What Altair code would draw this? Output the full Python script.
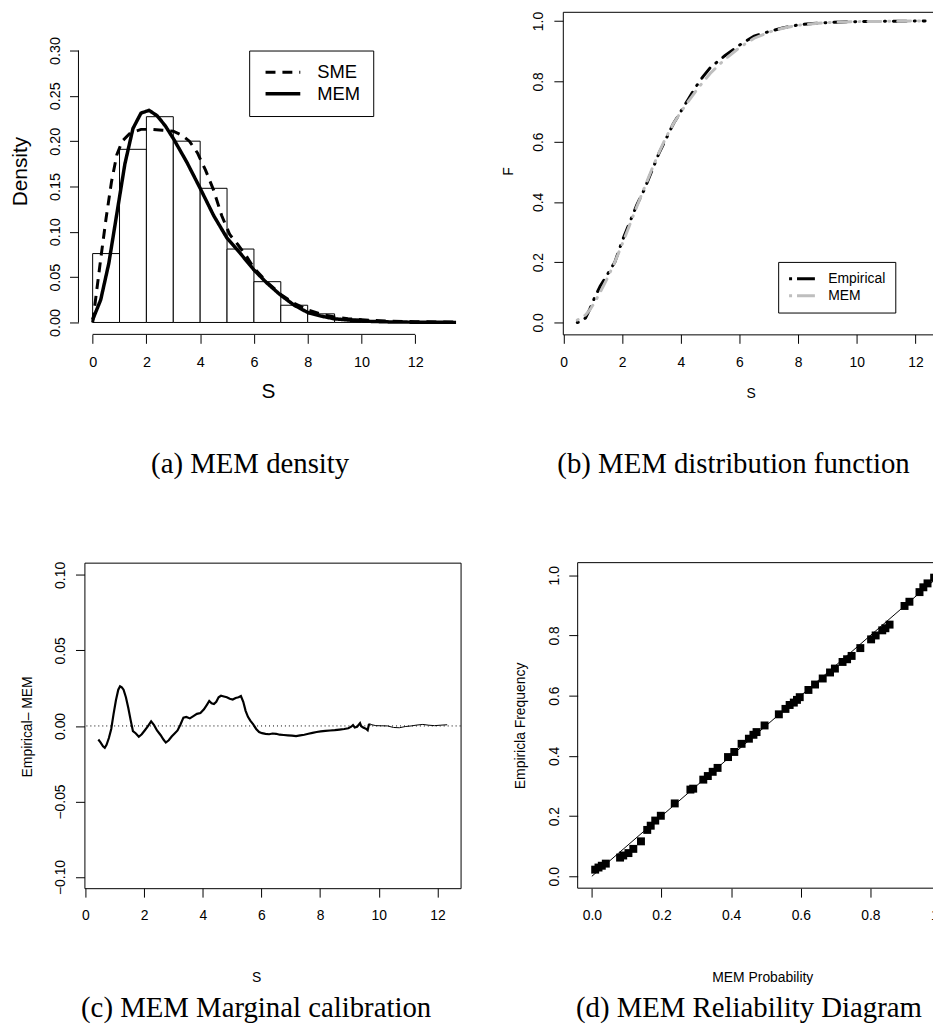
import altair as alt
import pandas as pd

SANS = "Liberation Sans"
SERIF = "Liberation Serif"

# ---------------- (a) MEM density ----------------
hist_left = [0, 1, 2, 3, 4, 5, 6, 7, 8, 9, 10, 11, 12]
hist_right = [1, 2, 3, 4, 5, 6, 7, 8, 9, 10, 11, 12, 13]
hist_density = [0.076, 0.191, 0.227, 0.200, 0.148, 0.081, 0.045, 0.019, 0.0095, 0.004, 0.002, 0.001, 0.0005]

sme_s = [0, 0.15, 0.3, 0.5, 0.7, 0.9, 1.1, 1.4, 1.8, 2.2, 2.6, 3.0, 3.3, 3.6, 3.9, 4.2, 4.5, 4.8, 5.1, 5.4,
         5.7, 6.0, 6.5, 7.0, 7.5, 8.0, 8.5, 9.0, 9.5, 10, 11, 12, 13.52]
sme_d = [0.0, 0.035, 0.07, 0.115, 0.155, 0.185, 0.200, 0.209, 0.213, 0.213, 0.212, 0.211, 0.207, 0.200, 0.187,
         0.168, 0.146, 0.118, 0.097, 0.086, 0.074, 0.060, 0.044, 0.031, 0.021, 0.014, 0.009, 0.006, 0.004,
         0.003, 0.0015, 0.0008, 0.0003]
mem_s = [0, 0.3, 0.6, 0.9, 1.2, 1.5, 1.8, 2.1, 2.4, 2.7, 3.0, 3.5, 4.0, 4.5, 5.0, 5.5, 6.0, 6.5, 7.0, 7.5,
         8.0, 8.5, 9.0, 10, 11, 12, 13.52]
mem_d = [0.003, 0.025, 0.065, 0.120, 0.175, 0.214, 0.231, 0.234, 0.228, 0.217, 0.203, 0.177, 0.148, 0.118,
         0.093, 0.076, 0.058, 0.043, 0.030, 0.019, 0.011, 0.007, 0.004, 0.0015, 0.0006, 0.0003, 0.0001]
a_series = ["SME", "MEM"]
a_x_ticks = [0, 2, 4, 6, 8, 10, 12]
a_y_ticks = [0.0, 0.05, 0.10, 0.15, 0.20, 0.25, 0.30]

# ---------------- (b) MEM distribution function ----------------
cdf_s = [0.47, 0.6, 0.75, 0.9, 1.05, 1.25, 1.5, 1.75, 2.0, 2.25, 2.5, 2.75, 3.0, 3.25, 3.5, 3.75, 4.0, 4.25,
         4.5, 4.75, 5.0, 5.5, 6.0, 6.5, 7.0, 7.5, 8.0, 8.5, 9.0, 9.5, 10, 11, 12, 12.33]
cdf_emp = [0.0, 0.003, 0.015, 0.045, 0.08, 0.12, 0.16, 0.2, 0.27, 0.33, 0.39, 0.44, 0.5, 0.56, 0.61, 0.66,
           0.7, 0.74, 0.78, 0.815, 0.845, 0.885, 0.92, 0.95, 0.965, 0.978, 0.987, 0.992, 0.995, 0.997, 0.998,
           0.999, 1.0, 1.0]
cdf_mem = [0.008, 0.014, 0.025, 0.042, 0.065, 0.1, 0.148, 0.2, 0.26, 0.322, 0.385, 0.445, 0.505, 0.563, 0.615,
           0.66, 0.698, 0.733, 0.766, 0.797, 0.826, 0.873, 0.912, 0.943, 0.963, 0.977, 0.986, 0.991, 0.995,
           0.997, 0.998, 0.999, 1.0, 1.0]
b_series = ["Empirical", "MEM"]
b_x_ticks = [0, 2, 4, 6, 8, 10, 12]
b_y_ticks = [0.0, 0.2, 0.4, 0.6, 0.8, 1.0]

# ---------------- (c) MEM marginal calibration ----------------
cal_s = [0.44, 0.52, 0.60, 0.66, 0.72, 0.80, 0.88, 0.96, 1.04, 1.12, 1.18, 1.24, 1.30, 1.38, 1.46, 1.54,
         1.62, 1.72, 1.82, 1.92, 2.02, 2.12, 2.24, 2.34, 2.44, 2.56, 2.66, 2.74, 2.84, 2.94, 3.04, 3.14,
         3.24, 3.34, 3.44, 3.56, 3.68, 3.80, 3.92, 4.04, 4.14, 4.22, 4.30, 4.38, 4.46, 4.54, 4.62, 4.72,
         4.82, 4.92, 5.02, 5.12, 5.22, 5.30, 5.38, 5.46, 5.54, 5.62, 5.72, 5.82, 5.92, 6.02, 6.14, 6.26,
         6.38, 6.50, 6.62, 6.76, 6.90, 7.04, 7.18, 7.32, 7.46, 7.60, 7.74, 7.88, 8.02, 8.18, 8.34, 8.50,
         8.66, 8.82, 8.96, 9.06, 9.12, 9.18, 9.26, 9.36, 9.40, 9.48, 9.56, 9.62, 9.66, 9.72]
cal_diff = [-0.0090, -0.0110, -0.0135, -0.0145, -0.0125, -0.0080, -0.0020, 0.0080, 0.0170, 0.0240,
            0.0262, 0.0255, 0.0240, 0.0190, 0.0120, 0.0040, -0.0035, -0.0050, -0.0072, -0.0055,
            -0.0030, -0.0005, 0.0030, 0.0005, -0.0030, -0.0060, -0.0090, -0.0110, -0.0095, -0.0070,
            -0.0050, -0.0030, 0.0010, 0.0055, 0.0060, 0.0050, 0.0065, 0.0080, 0.0085, 0.0110,
            0.0140, 0.0165, 0.0150, 0.0145, 0.0160, 0.0190, 0.0200, 0.0195, 0.0190, 0.0180,
            0.0175, 0.0185, 0.0190, 0.0198, 0.0160, 0.0100, 0.0060, 0.0035, 0.0010, -0.0020,
            -0.0040, -0.0048, -0.0052, -0.0055, -0.0050, -0.0052, -0.0058, -0.0060, -0.0062, -0.0064,
            -0.0067, -0.0062, -0.0058, -0.0052, -0.0046, -0.0040, -0.0036, -0.0033, -0.0030, -0.0028,
            -0.0024, -0.0020, -0.0015, -0.0005, 0.0006, -0.0010, -0.0005, 0.0018, -0.0002, -0.0012,
            -0.0018, -0.0028, 0.0008, 0.0010]
cal_tail_s = [9.72, 9.90, 10.10, 10.30, 10.50, 10.70, 10.90, 11.10, 11.30, 11.50, 11.70, 11.90, 12.10, 12.33]
cal_tail_diff = [0.0010, 0.0002, 0.0001, 0.0000, -0.0010, -0.0012, -0.0004, 0.0000, 0.0006, 0.0010,
                 0.0005, 0.0002, 0.0005, 0.0008]
c_reference = [0.0]
c_x_ticks = [0, 2, 4, 6, 8, 10, 12]
c_y_ticks = [-0.10, -0.05, 0.0, 0.05, 0.10]

# ---------------- (d) MEM reliability diagram ----------------
rel_prob = [0.0095, 0.019, 0.0285, 0.04, 0.081, 0.09, 0.105, 0.119, 0.141, 0.159, 0.169, 0.182, 0.198,
            0.238, 0.283, 0.291, 0.32, 0.333, 0.347, 0.361, 0.391, 0.409, 0.43, 0.451, 0.464, 0.473,
            0.496, 0.537, 0.556, 0.568, 0.58, 0.589, 0.597, 0.622, 0.641, 0.663, 0.684, 0.698, 0.72,
            0.733, 0.746, 0.771, 0.802, 0.815, 0.834, 0.843, 0.855, 0.898, 0.912, 0.941, 0.952, 0.964,
            0.983]
rel_freq = [0.022, 0.029, 0.035, 0.042, 0.062, 0.069, 0.077, 0.091, 0.116, 0.154, 0.168, 0.185, 0.201,
            0.242, 0.288, 0.291, 0.321, 0.333, 0.347, 0.36, 0.396, 0.413, 0.44, 0.457, 0.47, 0.479,
            0.501, 0.538, 0.556, 0.569, 0.577, 0.586, 0.595, 0.619, 0.637, 0.657, 0.677, 0.69, 0.712,
            0.721, 0.732, 0.758, 0.787, 0.8, 0.817, 0.824, 0.836, 0.898, 0.912, 0.944, 0.96, 0.973,
            0.992]
diag_p = [0.0, 1.0]
d_ticks = [0.0, 0.2, 0.4, 0.6, 0.8, 1.0]


def xaxis(values, fmt, title, tx, ty, lfs=14, tfs=14):
    return alt.Axis(values=values, format=fmt, title=title, tickSize=9, labelPadding=12,
                    labelFontSize=lfs, labelAngle=0, labelAlign="center", labelBaseline="top",
                    labelFlush=False, labelOverlap=False, grid=False, domain=False,
                    titleFontSize=tfs, titleFontWeight="normal", titleAngle=0, titleAlign="center",
                    titleBaseline="alphabetic", titleX=tx, titleY=ty)


def yaxis(values, fmt, title, tx, ty, lfs=14, tfs=14, pad=11, offset=0):
    return alt.Axis(values=values, format=fmt, title=title, tickSize=9, labelPadding=pad, offset=offset,
                    labelFontSize=lfs, labelAngle=270, labelAlign="center", labelBaseline="alphabetic",
                    labelFlush=False, labelOverlap=False, grid=False, domain=False,
                    titleFontSize=tfs, titleFontWeight="normal", titleAngle=270, titleAlign="center",
                    titleBaseline="alphabetic", titleX=tx, titleY=ty)


def caption(text, dx, offset):
    return alt.TitleParams(text=text, orient="bottom", anchor="middle", frame="group", font=SERIF,
                           fontSize=29, fontWeight="normal", color="black", dx=dx, offset=offset)


# ----- panel (a)
xa_dom = [-0.306, 13.688]
ya_dom = [-0.01314, 0.3427]
xa = alt.Scale(domain=xa_dom, nice=False, zero=False)
ya = alt.Scale(domain=ya_dom, nice=False, zero=False)
ax_ax = xaxis(a_x_ticks, "d", "S", 185, 64, lfs=14.5, tfs=21)
ax_ay = yaxis(a_y_ticks, ".2f", "Density", -52, 160.5, lfs=14.5, tfs=21, pad=10, offset=6)

hist_df = pd.DataFrame({"lo": hist_left, "hi": hist_right, "dens": hist_density})
bars = alt.Chart(hist_df).mark_rect(fill="white", stroke="black", strokeWidth=1).encode(
    x=alt.X("lo:Q", scale=xa, axis=ax_ax), x2="hi:Q",
    y=alt.Y("dens:Q", scale=ya, axis=ax_ay), y2=alt.datum(0))

a_lines_df = pd.concat([
    pd.DataFrame({"s": sme_s, "d": sme_d, "series": a_series[0]}),
    pd.DataFrame({"s": mem_s, "d": mem_d, "series": a_series[1]}),
])
leg_a = alt.Legend(title=None, orient="none", legendX=166, legendY=39,
                   symbolType="M-2.1875,0H2.1875", symbolSize=256, symbolStrokeWidth=3,
                   symbolStrokeColor="black", symbolOffset=11.5, labelOffset=24.5, padding=12.5,
                   rowPadding=2, labelFont=SANS, labelFontSize=18.5, labelColor="black",
                   strokeColor="black", fillColor="white", cornerRadius=0)
a_lines = alt.Chart(a_lines_df).mark_line(color="black", strokeCap="butt").encode(
    x=alt.X("s:Q", scale=xa, axis=ax_ax), y=alt.Y("d:Q", scale=ya, axis=ax_ay),
    strokeDash=alt.StrokeDash("series:N", scale=alt.Scale(domain=a_series, range=[[10, 7], [1, 0]]),
                              legend=leg_a),
    strokeWidth=alt.StrokeWidth("series:N", scale=alt.Scale(domain=a_series, range=[3, 3.5]), legend=None))

a_xline_df = pd.DataFrame({"x0": [a_x_ticks[0]], "x1": [a_x_ticks[-1]], "y": [ya_dom[0]]})
a_xline = alt.Chart(a_xline_df).mark_rule(color="black", strokeWidth=1).encode(
    x=alt.X("x0:Q", scale=xa, axis=ax_ax), x2="x1:Q", y=alt.Y("y:Q", scale=ya, axis=ax_ay))
a_yline_df = pd.DataFrame({"x": [xa_dom[0] - 6 / 27.083], "y0": [a_y_ticks[0]], "y1": [a_y_ticks[-1]]})
a_yline = alt.Chart(a_yline_df).mark_rule(color="black", strokeWidth=1).encode(
    x=alt.X("x:Q", scale=xa, axis=ax_ax), y=alt.Y("y0:Q", scale=ya, axis=ax_ay), y2="y1:Q")

chart_a = alt.layer(bars, a_lines, a_xline, a_yline).properties(
    width=379, height=325, title=caption("(a) MEM density", -22.5, 49),
    view=alt.ViewBackground(stroke="transparent"))

# ----- panel (b)
xb = alt.Scale(domain=[-0.024, 12.802], nice=False, zero=False)
yb = alt.Scale(domain=[-0.0395, 1.0306], nice=False, zero=False)
ax_bx = xaxis(b_x_ticks, "d", "S", 189.3, 64)
ax_by = yaxis(b_y_ticks, ".1f", "F", -51, 160.3)
b_df = pd.concat([
    pd.DataFrame({"s": cdf_s, "F": cdf_emp, "series": b_series[0]}),
    pd.DataFrame({"s": cdf_s, "F": cdf_mem, "series": b_series[1]}),
])
leg_b = alt.Legend(title=None, orient="none", legendX=217, legendY=252,
                   symbolType="M-2.8,0H2.8", symbolSize=100, symbolStrokeWidth=3,
                   symbolDash=[3, 5, 18, 5], symbolOffset=8, labelOffset=18.4, padding=10,
                   rowPadding=3, labelFont=SANS, labelFontSize=14, labelColor="black",
                   strokeColor="black", fillColor="white", cornerRadius=0)
chart_b = alt.Chart(b_df).mark_line(strokeWidth=3, strokeDash=[1, 8, 13, 8], strokeCap="round").encode(
    x=alt.X("s:Q", scale=xb, axis=ax_bx), y=alt.Y("F:Q", scale=yb, axis=ax_by),
    color=alt.Color("series:N", scale=alt.Scale(domain=b_series, range=["black", "#BEBEBE"]), legend=leg_b)
).properties(width=379, height=325, title=caption("(b) MEM distribution function", -17.5, 50))

# ----- panel (c)
xc = alt.Scale(domain=[-0.034, 12.787], nice=False, zero=False)
yc = alt.Scale(domain=[-0.1074, 0.1081], nice=False, zero=False)
ax_cx = xaxis(c_x_ticks, "d", "S", 173, 94)
ax_cy = yaxis(c_y_ticks, ".2f", "Empirical\u2013 MEM", -53.3, 165)
c_zero = alt.Chart(pd.DataFrame({"zero": c_reference})).mark_rule(
    color="black", strokeWidth=1, strokeDash=[1, 3]).encode(y=alt.Y("zero:Q", scale=yc, axis=ax_cy))
c_main = alt.Chart(pd.DataFrame({"s": cal_s, "d": cal_diff})).mark_line(color="black", strokeWidth=2.2).encode(
    x=alt.X("s:Q", scale=xc, axis=ax_cx), y=alt.Y("d:Q", scale=yc, axis=ax_cy))
c_tail = alt.Chart(pd.DataFrame({"s": cal_tail_s, "d": cal_tail_diff})).mark_line(color="black", strokeWidth=1).encode(
    x=alt.X("s:Q", scale=xc, axis=ax_cx), y=alt.Y("d:Q", scale=yc, axis=ax_cy))
chart_c = alt.layer(c_zero, c_main, c_tail).properties(
    width=379, height=328, title=caption("(c) MEM Marginal calibration", -16.5, 10))

# ----- panel (d)  (view starts with panel (b)'s column; the box is drawn from the axis limits)
xd_dom = [-0.0835, 1.0054]
yd_dom = [-0.0396, 1.0419]
d_box_x = [-0.0408, 1.0396]
xd = alt.Scale(domain=xd_dom, nice=False, zero=False)
yd = alt.Scale(domain=yd_dom, nice=False, zero=False)
ax_dx = xaxis(d_ticks, ".1f", "MEM Probability", 201, 94)
ax_dy = yaxis(d_ticks, ".1f", "Empiricla Frequency", -54, 164, pad=10.5, offset=-15)
d_box_h = alt.Chart(pd.DataFrame({"x0": [d_box_x[0]] * 2, "x1": [d_box_x[1]] * 2, "y": yd_dom})).mark_rule(
    color="black", strokeWidth=1).encode(
    x=alt.X("x0:Q", scale=xd, axis=ax_dx), x2="x1:Q", y=alt.Y("y:Q", scale=yd, axis=ax_dy))
d_box_v = alt.Chart(pd.DataFrame({"x": [d_box_x[0]]})).mark_rule(color="black", strokeWidth=1).encode(
    x=alt.X("x:Q", scale=xd, axis=ax_dx))
d_diag = alt.Chart(pd.DataFrame({"p": diag_p, "f": diag_p})).mark_line(color="black", strokeWidth=1).encode(
    x=alt.X("p:Q", scale=xd, axis=ax_dx), y=alt.Y("f:Q", scale=yd, axis=ax_dy))
d_pts = alt.Chart(pd.DataFrame({"p": rel_prob, "f": rel_freq})).mark_square(
    size=64, color="black", opacity=1).encode(
    x=alt.X("p:Q", scale=xd, axis=ax_dx), y=alt.Y("f:Q", scale=yd, axis=ax_dy))
chart_d = alt.layer(d_box_h, d_box_v, d_diag, d_pts).properties(
    width=382, height=328, title=caption("(d) MEM Reliability Diagram", -3.5, 10),
    view=alt.ViewBackground(stroke="transparent"))

# Fixed-size canvas: origin at the top-left of panel (a)'s plot area; the right-hand
# panels run off the edge of the page just as in the original figure.
chart = alt.concat(
    chart_a, chart_b, chart_c, chart_d, columns=2,
    spacing={"row": 227, "column": 100}, bounds="flush", align="all"
).resolve_scale(
    x="independent", y="independent", color="independent", strokeDash="independent",
    strokeWidth="independent"
).properties(
    autosize=alt.AutoSizeParams(type="none"),
    padding={"left": 77, "top": 0, "right": 855, "bottom": 1016}
).configure(
    font=SANS
).configure_axis(
    grid=False, domain=False, tickColor="black", tickWidth=1, labelColor="black", titleColor="black",
    labelFont=SANS, titleFont=SANS, titleFontWeight="normal", labelFlush=False, labelOverlap=False
).configure_view(
    stroke="black", strokeWidth=1
)

chart.save("out.html", embed_options={"renderer": "svg", "actions": False})
